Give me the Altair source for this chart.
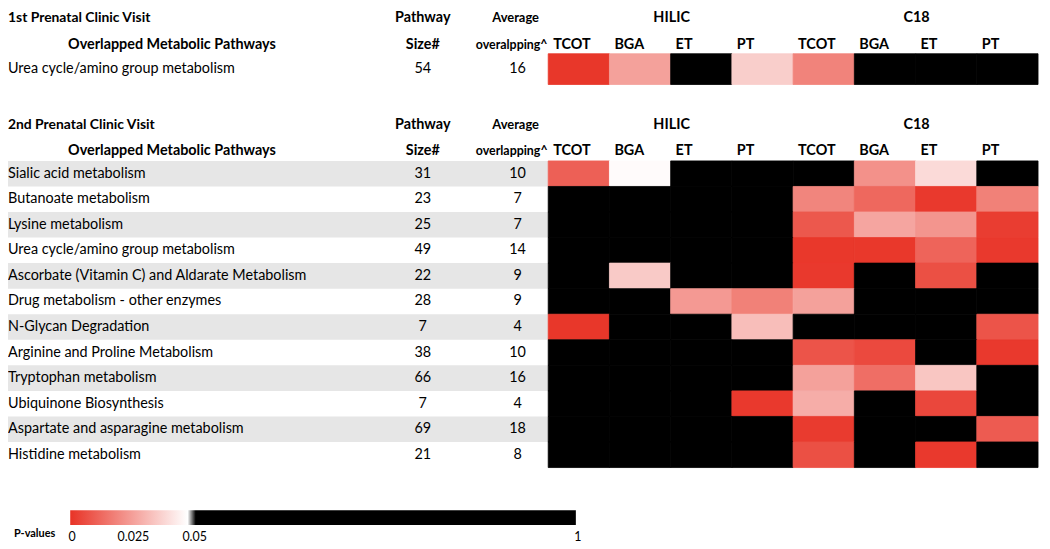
import altair as alt
import pandas as pd

# ---------------- data ----------------
platforms = ["HILIC"] * 4 + ["C18"] * 4
groups = ["TCOT", "BGA", "ET", "PT"] * 2
col_keys = [f"{p} {g}" for p, g in zip(platforms, groups)]

v1_title = "1st Prenatal Clinic Visit"
v1_overlap_header = "overalpping^"
v1_pathways = ["Urea cycle/amino group metabolism"]
v1_size = [54]
v1_overlap = [16]
# p-values per pathway, columns in col_keys order (black cells: p > 0.05)
v1_pvalues = [[0.001, 0.027, 0.5, 0.038, 0.0195, 0.5, 0.5, 0.5]]

v2_title = "2nd Prenatal Clinic Visit"
v2_overlap_header = "overlapping^"
v2_pathways = [
    "Sialic acid metabolism",
    "Butanoate metabolism",
    "Lysine metabolism",
    "Urea cycle/amino group metabolism",
    "Ascorbate (Vitamin C) and Aldarate Metabolism",
    "Drug metabolism - other enzymes",
    "N-Glycan Degradation",
    "Arginine and Proline Metabolism",
    "Tryptophan metabolism",
    "Ubiquinone Biosynthesis",
    "Aspartate and asparagine metabolism",
    "Histidine metabolism",
]
v2_size = [31, 23, 25, 49, 22, 28, 7, 38, 66, 7, 69, 21]
v2_overlap = [10, 7, 7, 14, 9, 9, 4, 10, 16, 4, 18, 8]
v2_pvalues = [
    [0.011, 0.049, 0.5, 0.5, 0.5, 0.023, 0.041, 0.5],
    [0.5, 0.5, 0.5, 0.5, 0.020, 0.013, 0.0015, 0.019],
    [0.5, 0.5, 0.5, 0.5, 0.009, 0.028, 0.024, 0.0025],
    [0.5, 0.5, 0.5, 0.5, 0.0012, 0.0012, 0.012, 0.0015],
    [0.5, 0.037, 0.5, 0.5, 0.0015, 0.5, 0.007, 0.5],
    [0.5, 0.5, 0.025, 0.019, 0.027, 0.5, 0.5, 0.5],
    [0.001, 0.5, 0.5, 0.034, 0.5, 0.5, 0.5, 0.008],
    [0.5, 0.5, 0.5, 0.5, 0.008, 0.0055, 0.5, 0.0015],
    [0.5, 0.5, 0.5, 0.5, 0.027, 0.0145, 0.036, 0.5],
    [0.5, 0.5, 0.5, 0.0015, 0.030, 0.5, 0.005, 0.5],
    [0.5, 0.5, 0.5, 0.5, 0.002, 0.5, 0.5, 0.0098],
    [0.5, 0.5, 0.5, 0.5, 0.007, 0.5, 0.0015, 0.5],
]

legend_ticks = [0, 0.025, 0.05, 1]
legend_labels = ["0", "0.025", "0.05", "1"]

# ---------------- layout helpers ----------------
W, H = 1042, 541
FONT = "Lato"
RED = "#e83326"


def X(rx):
    return (rx - 3) * 1040 / 1045


def Y(ry):
    return ry - 3


color_scale = alt.Scale(domain=[0, 0.05, 0.0501, 1],
                        range=[RED, "#ffffff", "#000000", "#000000"],
                        interpolate="rgb")
HALF_BAND = (X(1046) - X(550)) / 16


def label(text, x, y, size=14, bold=True, align="center", color="#000"):
    return alt.Chart(pd.DataFrame({"t": [text]})).mark_text(
        font=FONT, fontSize=size, fontWeight="bold" if bold else "normal",
        align=align, baseline="middle", color=color
    ).encode(x=alt.value(x), y=alt.value(y), text="t:N")


def section(title, overlap_header, pathways, sizes, overlaps, pvalues,
            y_head1, y_head2, y_top, y_bot, shade):
    rows = pd.DataFrame({
        "pathway": pathways,
        "size": sizes,
        "overlap": overlaps,
        "idx": list(range(len(pathways))),
    })
    cells = pd.DataFrame([
        {"pathway": pw, "col": ck, "p": pv}
        for pw, prow in zip(pathways, pvalues)
        for ck, pv in zip(col_keys, prow)
    ])
    cols = pd.DataFrame({"col": col_keys, "group": groups})

    yscale = alt.Scale(domain=pathways, range=[Y(y_top), Y(y_bot)],
                       paddingInner=0, paddingOuter=0)
    xscale = alt.Scale(domain=col_keys, range=[X(550), X(1046)],
                       paddingInner=0, paddingOuter=0)
    yenc = alt.Y("pathway:N", scale=yscale, axis=None, sort=pathways)

    layers = []
    if shade:
        layers.append(
            alt.Chart(rows).transform_filter("datum.idx % 2 == 0")
            .mark_rect(color="#e6e6e6")
            .encode(x=alt.value(0), x2=alt.value(X(550)), y=yenc)
        )
    base = alt.Chart(rows)
    layers += [
        base.mark_text(font=FONT, fontSize=14.5, align="left", baseline="middle", color="#000")
        .encode(x=alt.value(X(3)), y=yenc, text="pathway:N"),
        base.mark_text(font=FONT, fontSize=14.5, align="center", baseline="middle", color="#000")
        .encode(x=alt.value(X(423)), y=yenc, text="size:Q"),
        base.mark_text(font=FONT, fontSize=14.5, align="center", baseline="middle", color="#000")
        .encode(x=alt.value(X(519)), y=yenc, text="overlap:Q"),
        alt.Chart(cells).mark_rect(strokeWidth=0.8)
        .encode(x=alt.X("col:N", scale=xscale, axis=None, sort=col_keys),
                y=yenc,
                color=alt.Color("p:Q", scale=color_scale, legend=None),
                stroke=alt.Stroke("p:Q", scale=color_scale, legend=None)),
        alt.Chart(cols).mark_text(font=FONT, fontSize=14.5, fontWeight="bold",
                                  align="left", baseline="middle",
                                  dx=-HALF_BAND + 5, color="#000")
        .encode(x=alt.X("col:N", scale=xscale, axis=None, sort=col_keys),
                y=alt.value(Y(y_head2)), text="group:N"),
        label(title, X(3), Y(y_head1), align="left"),
        label("Overlapped Metabolic Pathways", X(169), Y(y_head2), size=14.5),
        label("Pathway", X(423), Y(y_head1), size=14.5),
        label("Size#", X(423), Y(y_head2), size=14.5),
        label("Average", X(517), Y(y_head1), size=13),
        label(overlap_header, X(513), Y(y_head2), size=12.5),
        label("HILIC", X(675), Y(y_head1), size=14.5),
        label("C18", X(923), Y(y_head1), size=14.5),
    ]
    return layers


layers = []
layers += section(v1_title, v1_overlap_header, v1_pathways, v1_size, v1_overlap,
                  v1_pvalues, 11, 38, 47, 78, shade=False)
layers += section(v2_title, v2_overlap_header, v2_pathways, v2_size, v2_overlap,
                  v2_pvalues, 119, 145, 155, 464, shade=True)

# ---------------- colour key ----------------
leg_scale = alt.Scale(domain=[legend_ticks[0], legend_ticks[2], legend_ticks[-1]],
                      range=[X(66), X(190), X(578)], nice=False, zero=False)
frac = (X(190) - X(66)) / (X(578) - X(66))
gradient = {
    "gradient": "linear", "x1": 0, "x2": 1, "y1": 0, "y2": 0,
    "stops": [
        {"offset": 0, "color": RED},
        {"offset": frac - 0.01, "color": "#ffffff"},
        {"offset": frac + 0.006, "color": "#000000"},
        {"offset": 1, "color": "#000000"},
    ],
}
leg_df = pd.DataFrame({"lo": [legend_ticks[0]], "hi": [legend_ticks[-1]]})
layers.append(
    alt.Chart(leg_df).mark_rect(color=gradient)
    .encode(x=alt.X("lo:Q", scale=leg_scale, axis=None), x2="hi:Q",
            y=alt.value(Y(507)), y2=alt.value(Y(522)))
)
tick_df = pd.DataFrame({"v": legend_ticks, "t": legend_labels})
layers.append(
    alt.Chart(tick_df).mark_text(font=FONT, fontSize=12.5, align="center",
                                 baseline="middle", color="#000", dx=2)
    .encode(x=alt.X("v:Q", scale=leg_scale, axis=None), y=alt.value(Y(534)), text="t:N")
)
layers.append(label("P-values", X(30), Y(531), size=11))

chart = alt.layer(*layers).resolve_scale(x="independent", y="independent").properties(
    width=W, height=H, padding=0, autosize=alt.AutoSizeParams(type="none")
).configure_view(stroke=None)

chart.save("out.html", embed_options={"renderer": "svg", "actions": False})
